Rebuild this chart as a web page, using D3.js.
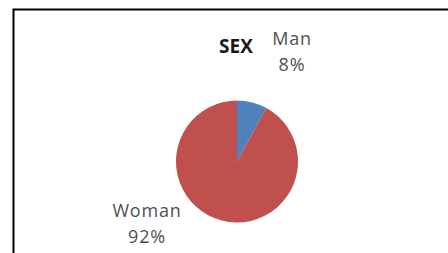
<!DOCTYPE html>
<html>
<head>
<style>
  body { margin: 0; background: #fff; }
  svg { display: block; }
  .lbl { font-family: 'Open Sans', sans-serif; font-size: 18px; letter-spacing: 0.8px; fill: #505050; }
  .title { font-family: 'Open Sans', sans-serif; font-size: 19px; font-weight: bold; fill: #1a1a1a; }
</style>
</head>
<body>
<script src="https://d3js.org/d3.v7.min.js"></script>
<script>
var categories = ["Man", "Woman"];
var values = [8, 92];
var colors = ["#4f81bd", "#c0504d"];
var title = "SEX";

var width = 448, height = 253;
var cx = 237, cy = 161.5, r = 61;

var svg = d3.select("body").append("svg")
    .attr("width", width)
    .attr("height", height);

svg.append("rect")
    .attr("width", width).attr("height", height)
    .attr("fill", "#fff");

// chart frame (runs off the right and bottom edge)
svg.append("rect")
    .attr("x", 13.5).attr("y", 9.5)
    .attr("width", 460).attr("height", 260)
    .attr("fill", "none")
    .attr("stroke", "#000")
    .attr("stroke-width", 2);

var pie = d3.pie().sort(null).value(function(d) { return d; });
var arc = d3.arc().innerRadius(0).outerRadius(r);

var g = svg.append("g").attr("transform", "translate(" + cx + "," + cy + ")");

g.selectAll("path")
    .data(pie(values))
    .enter().append("path")
    .attr("d", arc)
    .attr("fill", function(d, i) { return colors[i]; });

svg.append("text")
    .attr("class", "title")
    .attr("x", 236).attr("y", 53)
    .attr("text-anchor", "middle")
    .text(title);

// data labels placed outside the slices
var labelPos = [[292, 45], [147, 217]];
var total = d3.sum(values);
categories.forEach(function(c, i) {
  var t = svg.append("text")
      .attr("class", "lbl")
      .attr("text-anchor", "middle")
      .attr("x", labelPos[i][0]).attr("y", labelPos[i][1]);
  t.append("tspan").attr("x", labelPos[i][0]).text(c);
  t.append("tspan").attr("x", labelPos[i][0]).attr("dy", 26)
    .text(Math.round(values[i] / total * 100) + "%");
});
</script>
</body>
</html>
